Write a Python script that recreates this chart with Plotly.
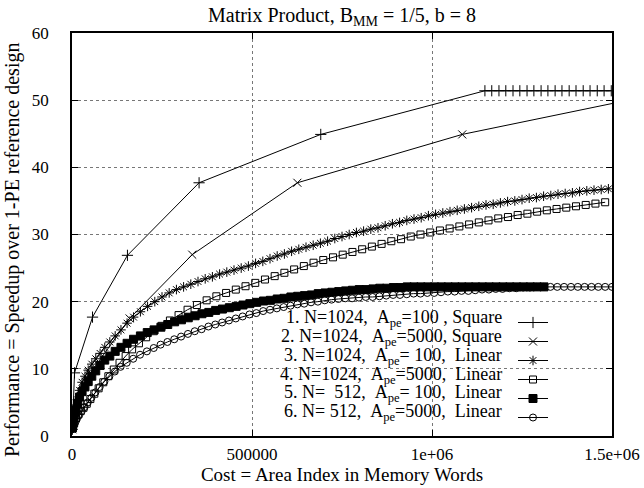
import plotly.graph_objects as go

# Cost (area index, thousands of memory words) and speedup for each design
sq100_cost_k = [1, 7, 57, 154, 353, 691, 1147, 1166, 1186, 1205, 1225, 1244, 1264, 1283,
                1303, 1322, 1342, 1361, 1381, 1400, 1420, 1439, 1459, 1478, 1498]
sq100_speedup = [1, 9.4, 17.7, 26.9, 37.7, 44.9, 51.4, 51.4, 51.4, 51.4, 51.4, 51.4, 51.4,
                 51.4, 51.4, 51.4, 51.4, 51.4, 51.4, 51.4, 51.4, 51.4, 51.4, 51.4, 51.4]

sq5000_cost_k = [1, 50, 160, 334, 626, 1084, 1672]
sq5000_speedup = [1, 9.3, 17.5, 27.0, 37.7, 44.9, 51.4]

lin1024_100_cost_k = [1, 3, 6, 10, 15, 21, 28, 36, 45, 55, 66, 78, 91, 105, 120, 136, 153, 171,
                      190, 210, 230, 250, 270, 290, 310, 330, 350, 370, 390, 410, 430, 450, 470,
                      490, 510, 530, 550, 570, 590, 610, 630, 650, 670, 690, 710, 730, 750, 770,
                      790, 810, 830, 850, 870, 890, 910, 930, 950, 970, 990, 1010, 1030, 1050,
                      1070, 1090, 1110, 1130, 1150, 1170, 1190, 1210, 1230, 1250, 1270, 1290,
                      1310, 1330, 1350, 1370, 1390, 1410, 1430, 1450, 1470, 1490]
lin1024_100_speedup = [1.3, 2.2, 3.2, 4.2, 5.4, 6.8, 8.0, 8.9, 9.8, 10.7, 11.5, 12.3, 13.2, 14.0,
                       14.9, 15.8, 16.8, 17.7, 18.5, 19.3, 20.0, 20.7, 21.3, 21.8, 22.2, 22.6,
                       23.0, 23.4, 23.7, 24.1, 24.4, 24.7, 25.0, 25.3, 25.7, 26.0, 26.4, 26.8,
                       27.1, 27.5, 27.8, 28.1, 28.4, 28.7, 29.0, 29.4, 29.7, 30.0, 30.3, 30.5,
                       30.8, 31.0, 31.3, 31.6, 31.8, 32.1, 32.3, 32.5, 32.8, 33.0, 33.2, 33.4,
                       33.6, 33.8, 34.0, 34.2, 34.4, 34.5, 34.7, 34.9, 35.0, 35.2, 35.4, 35.5,
                       35.7, 35.8, 36.0, 36.1, 36.2, 36.4, 36.5, 36.6, 36.7, 36.8]

lin1024_5000_cost_k = [2, 6, 11, 17, 24, 32, 41, 51, 62, 74, 87, 101, 116, 132, 149, 167, 186,
                       206, 227, 249, 272, 296, 321, 347, 374, 401, 428, 455, 482, 509, 536, 563,
                       590, 617, 644, 671, 698, 725, 752, 779, 806, 833, 860, 887, 914, 941, 968,
                       995, 1022, 1049, 1076, 1103, 1130, 1157, 1184, 1211, 1238, 1265, 1292,
                       1319, 1346, 1373, 1400, 1427, 1454, 1481]
lin1024_5000_speedup = [1.2, 1.9, 2.6, 3.2, 3.7, 4.2, 4.8, 5.5, 6.3, 7.1, 8.0, 8.9, 9.9, 10.9,
                        11.9, 12.9, 13.8, 14.7, 15.6, 16.4, 17.2, 18.0, 18.8, 19.5, 20.2, 20.8,
                        21.3, 21.8, 22.3, 22.8, 23.3, 23.8, 24.3, 24.8, 25.3, 25.8, 26.2, 26.6,
                        27.0, 27.4, 27.8, 28.2, 28.6, 29.0, 29.3, 29.7, 30.0, 30.3, 30.6, 30.9,
                        31.2, 31.5, 31.8, 32.1, 32.4, 32.6, 32.9, 33.1, 33.4, 33.6, 33.8, 34.0,
                        34.2, 34.4, 34.6, 34.8]

lin512_100_cost_k = [1, 3, 6, 10, 15, 21, 28, 36, 45, 55, 66, 78, 91, 105, 120, 136, 153, 171,
                     190, 209, 228, 247, 266, 285, 304, 323, 342, 361, 380, 399, 418, 437, 456,
                     475, 494, 513, 532, 551, 570, 589, 608, 627, 646, 665, 684, 703, 722, 741,
                     760, 779, 798, 817, 836, 855, 874, 893, 912, 931, 950, 969, 988, 1007,
                     1026, 1045, 1064, 1083, 1102, 1121, 1140, 1159, 1178, 1197, 1216, 1235,
                     1254, 1273, 1292, 1311]
lin512_100_speedup = [1.2, 2.0, 3.0, 3.9, 4.9, 5.8, 6.6, 7.3, 8.1, 8.9, 9.7, 10.5, 11.3, 11.9,
                      12.6, 13.2, 13.8, 14.4, 14.9, 15.4, 15.8, 16.2, 16.6, 17.0, 17.3, 17.6,
                      17.9, 18.2, 18.4, 18.7, 18.9, 19.1, 19.3, 19.5, 19.7, 19.9, 20.1, 20.2,
                      20.4, 20.5, 20.7, 20.8, 20.9, 21.0, 21.2, 21.3, 21.4, 21.5, 21.6, 21.7,
                      21.8, 21.8, 21.9, 22.0, 22.0, 22.1, 22.1, 22.2, 22.2, 22.2, 22.2, 22.2,
                      22.2, 22.2, 22.2, 22.2, 22.2, 22.2, 22.2, 22.2, 22.2, 22.2, 22.2, 22.2,
                      22.2, 22.2, 22.2, 22.2]

lin512_5000_cost_k = [2, 5, 9, 14, 20, 27, 35, 44, 54, 65, 77, 90, 104, 119, 135, 152, 170, 189,
                      208, 227, 246, 265, 284, 303, 322, 341, 360, 379, 398, 417, 436, 455, 474,
                      493, 512, 531, 550, 569, 588, 607, 626, 645, 664, 683, 702, 721, 740, 759,
                      778, 797, 816, 835, 854, 873, 892, 911, 930, 949, 968, 987, 1006, 1025,
                      1044, 1063, 1082, 1101, 1120, 1139, 1158, 1177, 1196, 1215, 1234, 1253,
                      1272, 1291, 1310, 1329, 1348, 1367, 1386, 1405, 1424, 1443, 1462, 1481,
                      1500]
lin512_5000_speedup = [1.0, 1.5, 2.0, 2.6, 3.1, 3.7, 4.3, 5.0, 5.7, 6.5, 7.3, 8.1, 8.9, 9.6,
                       10.3, 10.9, 11.5, 12.1, 12.6, 13.1, 13.6, 14.0, 14.4, 14.8, 15.2, 15.6,
                       15.9, 16.3, 16.6, 16.9, 17.2, 17.5, 17.8, 18.1, 18.3, 18.6, 18.8, 19.0,
                       19.2, 19.4, 19.6, 19.7, 19.9, 20.0, 20.2, 20.3, 20.4, 20.5, 20.5, 20.6,
                       20.7, 20.7, 20.8, 20.9, 21.0, 21.0, 21.1, 21.2, 21.2, 21.3, 21.3, 21.4,
                       21.5, 21.5, 21.6, 21.6, 21.7, 21.8, 21.8, 21.9, 21.9, 22.0, 22.0, 22.1,
                       22.1, 22.2, 22.2, 22.2, 22.2, 22.2, 22.2, 22.2, 22.2, 22.2, 22.2, 22.2,
                       22.2]

NB = "\u00a0"
legend_labels = [
    f"1. N=1024,{NB*2}A<sub>pe</sub>=100{NB}, Square",
    f"2. N=1024,{NB*2}A<sub>pe</sub>=5000, Square",
    f"3. N=1024,{NB*2}A<sub>pe</sub>={NB}100,{NB*2}Linear",
    f"4. N=1024,{NB*2}A<sub>pe</sub>=5000,{NB*2}Linear",
    f"5. N={NB*2}512,{NB*2}A<sub>pe</sub>={NB}100,{NB*2}Linear",
    f"6. N={NB}512,{NB*2}A<sub>pe</sub>=5000,{NB*2}Linear",
]

x_tickvals = [0, 500000, 1000000, 1500000]
x_ticktext = ["0", "500000", "1e+06", "1.5e+06"]
y_tickvals = [0, 10, 20, 30, 40, 50, 60]

series = [
    (sq100_cost_k, sq100_speedup, "cross-thin", 8),
    (sq5000_cost_k, sq5000_speedup, "x-thin", 8),
    (lin1024_100_cost_k, lin1024_100_speedup, "asterisk", 8),
    (lin1024_5000_cost_k, lin1024_5000_speedup, "square-open", 7),
    (lin512_100_cost_k, lin512_100_speedup, "square", 8),
    (lin512_5000_cost_k, lin512_5000_speedup, "circle-open", 7),
]

FONT = "Liberation Serif, Times New Roman, serif"

# plot area in pixels
L, R, T, B = 72, 612, 33, 436
W, H = R - L, B - T

fig = go.Figure()
for cost_k, speedup, symbol, size in series:
    fig.add_trace(go.Scatter(
        x=[c * 1000 for c in cost_k],
        y=speedup,
        mode="lines+markers",
        name="",
        line=dict(color="black", width=1),
        marker=dict(symbol=symbol, size=size, color="black",
                    line=dict(color="black", width=1)),
    ))

# key text, right-aligned to the left of the legend samples
key_y_px = [318, 337, 356, 375, 393, 412]
for label, ypx in zip(legend_labels, key_y_px):
    fig.add_annotation(
        x=(504 - L) / W, y=(B - ypx) / H, xref="paper", yref="paper",
        text=label, showarrow=False, xanchor="right", yanchor="middle",
        font=dict(family=FONT, size=18, color="black"),
    )

# vertical axis title
fig.add_annotation(
    x=(12 - L) / W, y=(B - 250) / H, xref="paper", yref="paper",
    text="Performance = Speedup over 1-PE reference design", textangle=-90,
    showarrow=False, xanchor="center", yanchor="middle",
    font=dict(family=FONT, size=20, color="black"),
)

axis_common = dict(
    showline=True, linecolor="black", linewidth=1.5, mirror="allticks",
    ticks="inside", ticklen=6, tickcolor="black", tickwidth=1,
    showgrid=True, gridcolor="#777", griddash="dot", gridwidth=1,
    zeroline=False, automargin=False,
    tickfont=dict(family=FONT, size=17, color="black"),
)

fig.update_layout(
    width=644, height=488,
    margin=dict(l=L, r=644 - R, t=T, b=488 - B),
    paper_bgcolor="white", plot_bgcolor="white",
    font=dict(family=FONT, size=17, color="black"),
    title=dict(text="Matrix Product, B<sub>MM</sub> = 1/5, b = 8",
               x=(L + R) / 2 / 644, xanchor="center", y=1 - 15 / 488, yanchor="middle",
               font=dict(family=FONT, size=20)),
    xaxis=dict(range=[0, 1500000], tickvals=x_tickvals, ticktext=x_ticktext,
               ticklabelstandoff=2,
               title=dict(text="Cost = Area Index in Memory Words", standoff=0,
                          font=dict(family=FONT, size=19)),
               **axis_common),
    yaxis=dict(range=[0, 60], tickvals=y_tickvals, ticklabelstandoff=18,
               **axis_common),
    showlegend=True,
    legend=dict(x=(513 - L) / W, y=(B - 308) / H, xanchor="left", yanchor="top",
                bgcolor="rgba(0,0,0,0)", borderwidth=0,
                font=dict(family=FONT, size=12), itemwidth=30, tracegroupgap=0),
)

fig.write_html("out.html")
